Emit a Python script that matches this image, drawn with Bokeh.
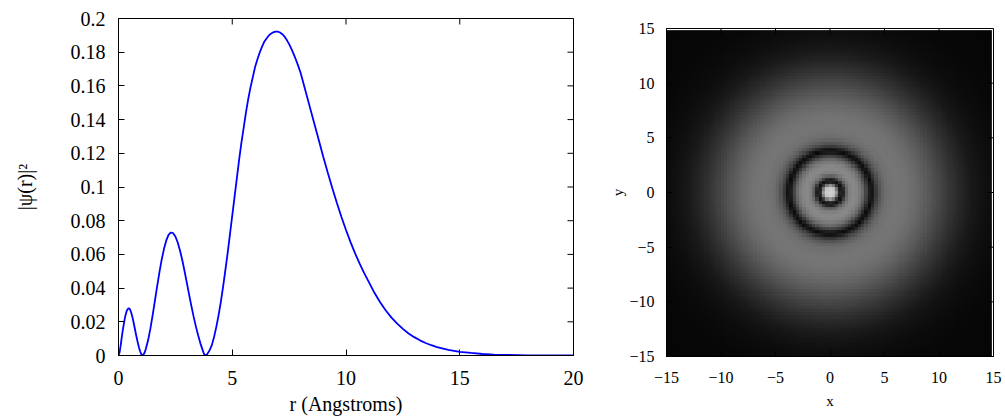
import numpy as np
from bokeh.plotting import figure
from bokeh.layouts import row, column
from bokeh.models import (FixedTicker, LinearColorMapper,
                          CustomJSTickFormatter, Range1d, Spacer)
from bokeh.embed import file_html
from bokeh.resources import INLINE

# ---------------- data ----------------
r_vals = [0, 0.05, 0.1, 0.15, 0.2, 0.25, 0.3, 0.35, 0.4, 0.45, 0.5, 0.55,
          0.6, 0.65, 0.7, 0.75, 0.8, 0.85, 0.9, 0.95, 1.0, 1.05,
          1.1, 1.15, 1.2, 1.3, 1.4, 1.5, 1.6, 1.7, 1.8, 1.9, 2.0, 2.1, 2.2,
          2.3, 2.4, 2.5, 2.6, 2.7, 2.8, 2.9, 3.0, 3.1, 3.2, 3.3, 3.4, 3.5,
          3.6, 3.7, 3.75, 3.8,
          3.9, 4.0, 4.1, 4.2, 4.3, 4.4, 4.5, 4.6, 4.7, 4.8, 4.9, 5.0, 5.1,
          5.2, 5.3, 5.4, 5.5, 5.6, 5.7, 5.8, 5.9, 6.0, 6.1, 6.2, 6.3, 6.4,
          6.5, 6.6, 6.7, 6.8, 6.9, 7.0, 7.1, 7.2, 7.3, 7.4, 7.5, 7.6, 7.7,
          7.8, 7.9, 8.0, 8.2, 8.4, 8.6, 8.8, 9.0, 9.2, 9.4, 9.6, 9.8, 10.0,
          10.2, 10.4, 10.6, 10.8, 11.0, 11.25, 11.5, 11.75, 12.0, 12.25,
          12.5, 12.75, 13.0, 13.25, 13.5, 13.75, 14.0, 14.5, 15.0, 15.5,
          16.0, 16.5, 17.0, 18.0, 19.0, 20.0]
psi2_vals = [0, 0.002, 0.0065, 0.0115, 0.016, 0.020, 0.0235, 0.026, 0.0275,
             0.028, 0.0275, 0.0258, 0.0235, 0.0205, 0.0172, 0.0138, 0.0105,
             0.0075, 0.0048, 0.0025, 0.0008, 0,
             0.0006, 0.0018, 0.0038, 0.0090, 0.0158, 0.0238, 0.0325, 0.0412,
             0.0495, 0.0570, 0.0633, 0.0683, 0.0716, 0.0730, 0.0726, 0.0706,
             0.0672, 0.0625, 0.0568, 0.0503, 0.0434, 0.0364, 0.0296, 0.0232,
             0.0173, 0.0120, 0.0072, 0.0032, 0.0012, 0,
             0.0008, 0.003, 0.006, 0.011, 0.017, 0.024, 0.032, 0.041, 0.051,
             0.061, 0.072, 0.083, 0.094, 0.105, 0.116, 0.126, 0.135, 0.144,
             0.152, 0.159, 0.165, 0.171, 0.1755, 0.1795, 0.183, 0.186, 0.188,
             0.1898, 0.191, 0.1918, 0.1922, 0.1922, 0.1917, 0.1907, 0.1892,
             0.1872, 0.1848, 0.182, 0.1789, 0.1755, 0.1719, 0.168, 0.158,
             0.148, 0.138, 0.128, 0.118, 0.1085, 0.0993, 0.0905, 0.0822,
             0.0745, 0.0673, 0.0606, 0.0545, 0.0489, 0.0437, 0.0372, 0.0316,
             0.0267, 0.0225, 0.0189, 0.0158, 0.0131, 0.0109, 0.0090, 0.0074,
             0.0061, 0.0050, 0.0033, 0.0022, 0.0015, 0.0009, 0.00055,
             0.00033, 0.00012, 0.00004, 0.00001]
x_ticks = [0, 5, 10, 15, 20]
y_ticks = [0, 0.02, 0.04, 0.06, 0.08, 0.1, 0.12, 0.14, 0.16, 0.18, 0.2]

# radial grey-level profile of the density map (0 = black, 1 = white)
prof_r = [0, 0.3, 0.45, 0.6, 0.75, 0.9, 1.05, 1.2, 1.35, 1.5, 1.8, 2.2, 2.6,
          3.0, 3.3, 3.6, 3.8, 4.0, 4.3, 4.7, 5.2, 6.0, 7.0, 8.0, 9.0, 10.0,
          11.0, 12.0, 13.0, 14.0, 15.0, 17.0, 22.0]
prof_gray = [0.82, 0.80, 0.76, 0.60, 0.35, 0.15, 0.06, 0.12, 0.25, 0.38,
             0.50, 0.54, 0.51, 0.42, 0.28, 0.12, 0.04, 0.12, 0.27, 0.38,
             0.44, 0.46, 0.45, 0.41, 0.35, 0.28, 0.21, 0.15, 0.10, 0.07,
             0.05, 0.03, 0.02]
map_ticks = [-15, -10, -5, 0, 5, 10, 15]
grid_start = -15.0
grid_step = 0.3
grid_n = 100

FONT = "Liberation Serif"


def style_axis(ax, ticks, fmt, size):
    ax.ticker = FixedTicker(ticks=ticks)
    ax.formatter = fmt
    ax.major_tick_in = 6
    ax.major_tick_out = 0
    ax.minor_tick_line_color = None
    ax.axis_line_color = "black"
    ax.major_tick_line_color = "black"
    ax.major_label_text_font = FONT
    ax.major_label_text_font_size = size
    ax.major_label_text_color = "black"
    ax.axis_label_text_font = FONT
    ax.axis_label_text_font_style = "normal"
    ax.axis_label_text_color = "black"


num_fmt = CustomJSTickFormatter(code="return String(parseFloat(tick.toFixed(4)));")
neg_fmt = CustomJSTickFormatter(
    code="return tick < 0 ? '\\u2212' + String(-tick) : String(tick);")

# ---------------- left: radial probability ----------------
p1 = figure(width=600, height=417,
            x_range=Range1d(0, 20), y_range=Range1d(0, 0.2),
            output_backend="svg", toolbar_location=None,
            min_border_left=118, min_border_right=27,
            min_border_top=18, min_border_bottom=62)
p1.grid.visible = False
p1.outline_line_color = "black"
p1.background_fill_color = "white"
p1.border_fill_color = "white"

p1.line(r_vals, psi2_vals, line_color="#0000ff", line_width=1.8)

# mirrored tick marks on the top and right edges
p1.scatter(x=x_ticks[1:-1], y=[y_ticks[-1]] * (len(x_ticks) - 2), marker="dash",
           size=12, angle=np.pi / 2, line_color="black", line_width=1)
p1.scatter(x=[x_ticks[-1]] * (len(y_ticks) - 2), y=y_ticks[1:-1], marker="dash",
           size=12, angle=0, line_color="black", line_width=1)

style_axis(p1.xaxis[0], x_ticks, num_fmt, "20px")
style_axis(p1.yaxis[0], y_ticks, num_fmt, "20px")
p1.xaxis[0].major_label_standoff = 15
p1.xaxis[0].axis_label = "r (Angstroms)"
p1.xaxis[0].axis_label_text_font_size = "20px"
p1.xaxis[0].axis_label_standoff = 5
p1.yaxis[0].major_label_standoff = 13
p1.yaxis[0].axis_label = "|\u03c8(r)|\u00b2"
p1.yaxis[0].axis_label_text_font_size = "20px"
p1.yaxis[0].axis_label_standoff = 32

# ---------------- right: density map ----------------
grays = ["#%02x%02x%02x" % (i, i, i) for i in range(256)]
mapper = LinearColorMapper(palette=grays, low=0, high=1)

p2 = figure(width=405, height=407,
            x_range=Range1d(-15, 15), y_range=Range1d(-15, 15),
            output_backend="svg", toolbar_location=None,
            min_border_left=66, min_border_right=12,
            min_border_top=18, min_border_bottom=61)
p2.grid.visible = False
p2.outline_line_color = "black"
p2.background_fill_color = "white"
p2.border_fill_color = "white"

gx = grid_start + grid_step * np.arange(grid_n)
GX, GY = np.meshgrid(gx, gx)
img = np.interp(np.hypot(GX, GY), prof_r, prof_gray)
p2.image(image=[img], x=grid_start - grid_step / 2, y=grid_start - grid_step / 2,
         dw=grid_n * grid_step, dh=grid_n * grid_step, color_mapper=mapper)

p2.scatter(x=map_ticks[1:-1], y=[map_ticks[-1]] * (len(map_ticks) - 2),
           marker="dash", size=12, angle=np.pi / 2, line_color="black",
           line_width=1)
p2.scatter(x=[map_ticks[-1]] * (len(map_ticks) - 2), y=map_ticks[1:-1],
           marker="dash", size=12, angle=0, line_color="black", line_width=1)

style_axis(p2.xaxis[0], map_ticks, neg_fmt, "16px")
style_axis(p2.yaxis[0], map_ticks, neg_fmt, "16px")
p2.xaxis[0].major_label_standoff = 15
p2.xaxis[0].axis_label = "x"
p2.xaxis[0].axis_label_text_font_size = "15px"
p2.xaxis[0].axis_label_standoff = 7
p2.yaxis[0].major_label_standoff = 12
p2.yaxis[0].axis_label = "y"
p2.yaxis[0].axis_label_text_font_size = "15px"
p2.yaxis[0].axis_label_standoff = 0

layout = row(p1, column(Spacer(width=405, height=10), p2))
with open("out.html", "w", encoding="utf-8") as f:
    f.write(file_html(layout, INLINE))
